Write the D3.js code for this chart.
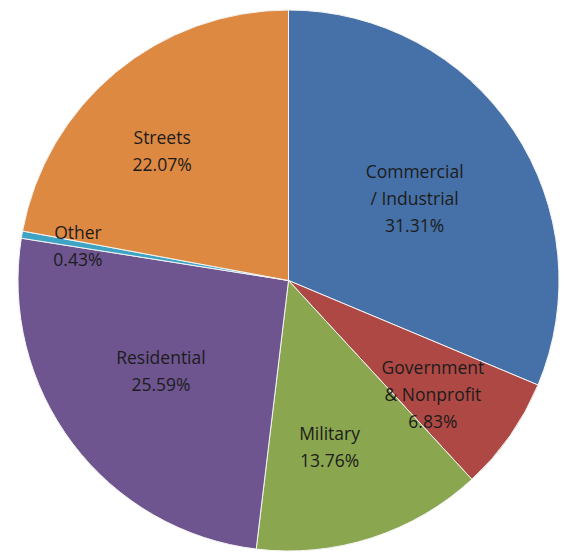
<!DOCTYPE html>
<html><head><meta charset="utf-8">
<script src="https://cdn.jsdelivr.net/npm/d3@7/dist/d3.min.js"></script>
<style>html,body{margin:0;padding:0;background:#fff;}</style>
</head><body>
<svg id="chart" width="564" height="552"></svg>
<script>
const categories = ["Commercial / Industrial", "Government & Nonprofit", "Military", "Residential", "Other", "Streets"];
const values = [31.31, 6.83, 13.76, 25.59, 0.43, 22.07];
const labelLines = [["Commercial", "/ Industrial"], ["Government", "& Nonprofit"], ["Military"], ["Residential"], ["Other"], ["Streets"]];
const colors = ["#4671A8", "#AE4844", "#8AA64E", "#6E5590", "#3FA3C4", "#DE8942"];

const svg = d3.select("#chart");
const cx = 288.5, cy = 280.5, r = 270.5;
const g = svg.append("g").attr("transform", `translate(${cx},${cy})`);

const data = categories.map((c, i) => ({name: c, value: values[i], lines: labelLines[i], color: colors[i]}));
const pie = d3.pie().value(d => d.value).sort(null);
const arcs = pie(data);
const arc = d3.arc().innerRadius(0).outerRadius(r);

g.selectAll("path").data(arcs).join("path")
  .attr("d", arc)
  .attr("fill", d => d.data.color)
  .attr("stroke", "#f4f4f4")
  .attr("stroke-width", 1);

// label anchor radii fraction per slice (Excel best-fit style placement) plus nudges
const labelRadius = [0.56, 0.67, 0.65, 0.54, 0.79, 0.54];
const labelShift = [[0,2],[-4,10],[-13,0],[-11,3],[0,2],[-33,-17]];
const lineH = 27;
arcs.forEach((a, i) => {
  const mid = (a.startAngle + a.endAngle) / 2;
  const rr = r * labelRadius[i];
  const x = Math.sin(mid) * rr + labelShift[i][0];
  const y = -Math.cos(mid) * rr + labelShift[i][1];
  const lines = a.data.lines.concat([a.data.value.toFixed(2) + "%"]);
  const t = g.append("text")
    .attr("text-anchor", "middle")
    .attr("font-family", "'Open Sans', sans-serif")
    .attr("font-size", 17.5)
    .attr("fill", "#1c1c1c");
  const y0 = y - (lines.length - 1) * lineH / 2;
  lines.forEach((ln, k) => {
    t.append("tspan").attr("x", x).attr("y", y0 + k * lineH).attr("dy", "0.35em").text(ln);
  });
});
</script>
</body></html>
